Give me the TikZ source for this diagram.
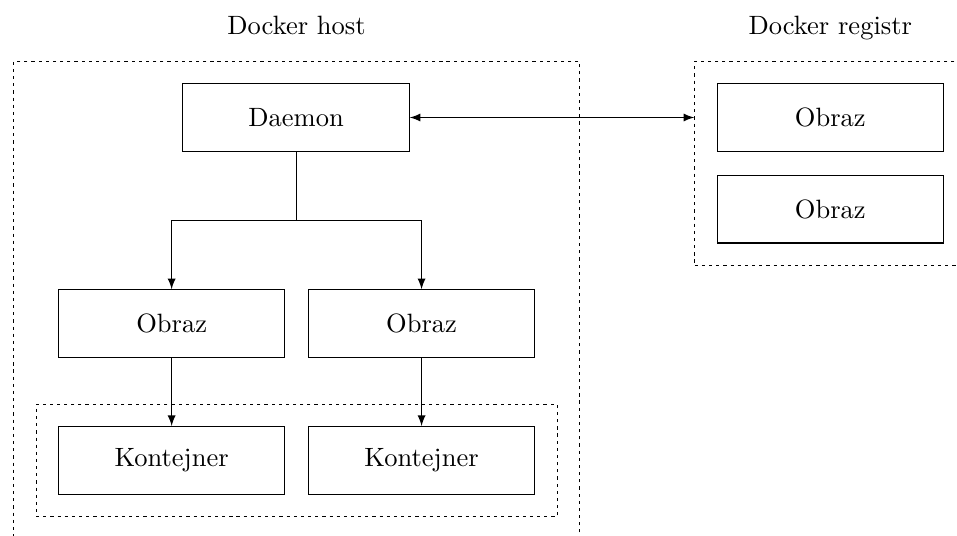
\documentclass[tikz,border=0pt]{standalone}
\usepackage{tikz}
\usetikzlibrary{positioning, fit}

\begin{document}
\begin{tikzpicture}
	\tikzstyle{box}=[
	draw,
	rectangle,
	text centered,
	minimum width=3cm,
	minimum height=0.9cm
	]
	\tikzstyle{group}=[
	draw,
	dash pattern=on 1.2pt off 1.5pt,
	rectangle,
	inner sep=0.29cm
	]
	\tikzstyle{title}=[
	anchor=base
	]
	\useasboundingbox (0,0) rectangle (12.69,-7.096);
	\node[box] (daemon) at (3.926,-1.558) {Daemon};
	\node[box, below=1.82cm of daemon, xshift=-1.65cm] (obrazL) {Obraz};
	\node[box, right=0.3cm of obrazL] (obrazR) {Obraz};
	\node[box, below=0.9cm of obrazL] (kontL) {Kontejner};
	\node[box, below=0.9cm of obrazR] (kontR) {Kontejner};
	\node[box, right=4.07cm of daemon] (regA) {Obraz};
	\node[box, below=0.3cm of regA] (regB) {Obraz};
	\node[group, fit=(kontL) (kontR)] (kontbox) {};
	\node[group, fit=(daemon) (kontbox)] (hostbox) {};
	\node[group, fit=(regA) (regB)] (regbox) {};
	\node[above=0.353cm of hostbox.north, title] (hosttitle) {Docker host};
	\node[above=0.353cm of regbox.north, title] (regtitle) {Docker registr};
	\coordinate[below=0.91cm of daemon.south] (split);
	\draw (daemon.south) -- (split);
	\draw[-latex] (split) -| (obrazL.north);
	\draw[-latex] (split) -| (obrazR.north);
	\draw[-latex] (obrazL) -- (kontL);
	\draw[-latex] (obrazR) -- (kontR);
	\draw[latex-latex] (daemon.east) -- (daemon.east -| regbox.west);
\end{tikzpicture}
\end{document}
